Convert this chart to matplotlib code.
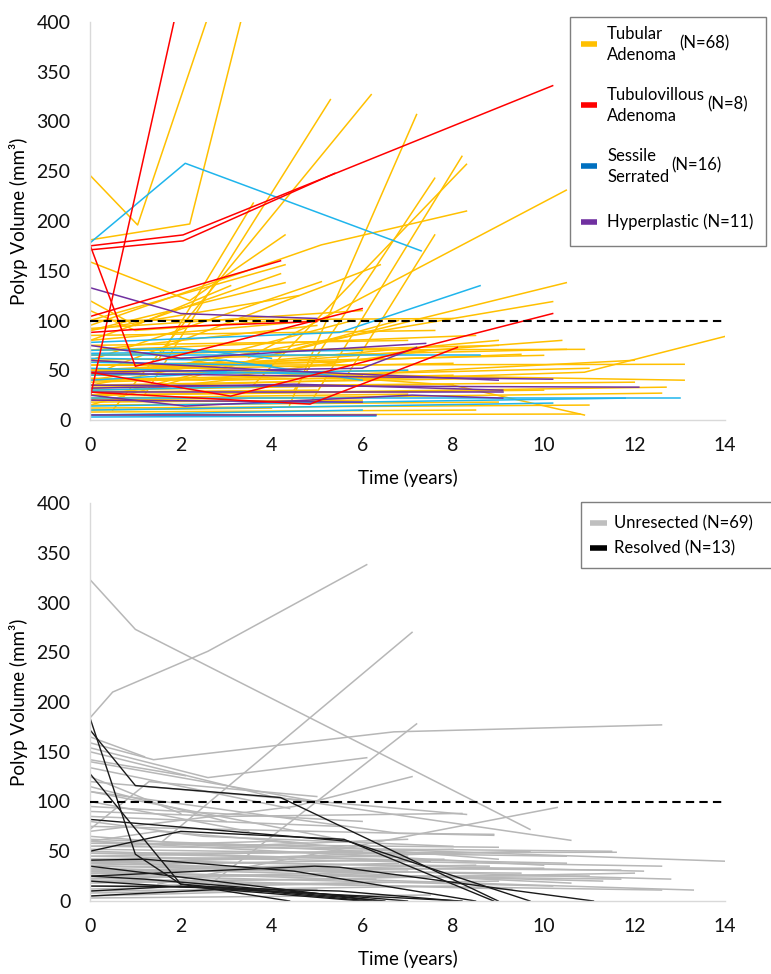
import matplotlib.pyplot as plt
from matplotlib.patches import Rectangle

plt.rcParams['font.family'] = ['Lato', 'DejaVu Sans']

# ---- top panel: polyp volume by histology (time in years, volume in mm3)
tubular = [
    ([0, 1.05, 2.6], [246, 196, 405]),
    ([0, 2.2, 3.35], [181, 197, 405]),
    ([0, 2.2, 4.3], [159, 120, 186]),
    ([1.2, 5.3], [25, 322]),
    ([0.5, 6.2], [10, 327]),
    ([4.4, 7.2], [15, 307]),
    ([4.9, 8.2], [20, 265]),
    ([3.6, 8.3], [35, 257]),
    ([0, 5.1, 8.3], [95, 176, 210]),
    ([4.5, 7.6], [30, 243]),
    ([5.6, 7.6], [40, 186]),
    ([3.5, 10.5], [63, 231]),
    ([0, 4.3], [100, 156]),
    ([0, 4.2], [80, 147]),
    ([0, 4.3], [90, 138]),
    ([0, 5.1], [60, 139]),
    ([0, 6.4], [45, 156]),
    ([1.5, 3.6], [60, 218]),
    ([0, 10.5], [20, 138]),
    ([0, 10.2], [40, 119]),
    ([0, 10.9, 14.0], [32, 48, 84]),
    ([0, 10.9], [70, 71]),
    ([0, 13.1], [55, 56]),
    ([0, 13.1], [50, 40]),
    ([0, 12.7], [25, 33]),
    ([0, 8.0, 10.9], [60, 35, 5]),
    ([0, 10.4], [45, 80]),
    ([0, 10.5], [60, 71]),
    ([0, 9.5], [50, 66]),
    ([0, 1.0, 3.1], [120, 95, 135]),
    ([0, 8.0], [100, 102]),
    ([0, 6.0], [92, 110]),
    ([0, 5.0], [80, 100]),
    ([0, 7.6], [85, 90]),
    ([0, 8.5], [70, 85]),
    ([0, 7.0], [75, 80]),
    ([0, 9.0], [65, 75]),
    ([0, 6.0], [65, 72]),
    ([0, 10.0], [55, 65]),
    ([0, 5.5], [55, 58]),
    ([0, 8.0], [50, 57]),
    ([0, 7.0], [45, 50]),
    ([0, 11.0], [40, 52]),
    ([0, 6.5], [40, 42]),
    ([0, 9.0], [35, 42]),
    ([0, 12.0], [33, 38]),
    ([0, 8.0], [30, 36]),
    ([0, 5.0], [28, 30]),
    ([0, 10.0], [25, 30]),
    ([0, 7.0], [22, 26]),
    ([0, 12.6], [20, 27]),
    ([0, 6.0], [18, 20]),
    ([0, 9.0], [15, 18]),
    ([0, 11.0], [12, 15]),
    ([0, 4.0], [10, 12]),
    ([0, 8.5], [8, 10]),
    ([0, 10.8], [5, 6]),
    ([0, 3.0, 6.0], [60, 50, 45]),
    ([0, 2.0, 5.0], [70, 80, 95]),
    ([0, 4.0, 9.0], [48, 60, 80]),
    ([0, 3.0], [35, 60]),
    ([0, 2.5, 7.5], [42, 40, 70]),
    ([0, 4.6], [90, 125]),
    ([0, 1.0, 4.2], [110, 90, 100]),
    ([0, 2.0, 5.8], [50, 55, 100]),
    ([0, 6.8], [15, 100]),
    ([0, 3.0, 8.0], [25, 40, 45]),
    ([0, 5.5, 12.0], [38, 45, 60]),
]

tubulovillous = [
    ([0, 1.9], [22, 410]),
    ([0, 2.05, 5.4], [171, 180, 248]),
    ([0, 2.05, 10.2], [175, 186, 336]),
    ([0, 1.0, 6.0], [176, 54, 112]),
    ([0, 4.2], [104, 160]),
    ([0, 2.0, 5.0], [88, 94, 99]),
    ([0, 3.1, 10.2], [48, 24, 107]),
    ([0, 4.85, 8.1], [28, 16, 73]),
]

sessile = [
    ([0, 2.1, 7.3], [178, 258, 170]),
    ([0, 5.5, 8.6], [78, 88, 135]),
    ([0, 6.0], [67, 70]),
    ([0, 8.6], [65, 65]),
    ([0, 3.0, 6.0], [62, 60, 40]),
    ([0, 4.0], [58, 55]),
    ([0, 5.0], [52, 46]),
    ([0, 7.0], [45, 50]),
    ([0, 3.0], [40, 48]),
    ([0, 13.0], [22, 22]),
    ([0, 11.8], [14, 22]),
    ([0, 10.2], [10, 17]),
    ([0, 6.0], [5, 10]),
    ([0, 6.3], [3, 4]),
    ([0, 5.0], [30, 35]),
    ([0, 2.0, 4.0], [70, 72, 62]),
]

hyperplastic = [
    ([0, 2.0, 5.0], [133, 107, 102]),
    ([0, 2.0, 7.4], [75, 62, 77]),
    ([0, 10.2], [47, 41]),
    ([0, 12.1], [35, 33]),
    ([0, 2.1, 7.1, 9.1], [25, 14, 25, 22]),
    ([0, 6.3], [5, 5]),
    ([0, 9.1], [28, 28]),
    ([0, 6.0, 7.2], [48, 52, 73]),
    ([0, 4.5, 9.1], [32, 36, 30]),
    ([0, 6.0], [20, 18]),
    ([0, 4.0, 9.0], [60, 50, 40]),
]

# ---- bottom panel: unresected vs resolved
unresected = [
    ([0, 1.0, 9.7], [323, 273, 72]),
    ([0, 0.5, 2.6, 6.1], [184, 210, 251, 338]),
    ([1.6, 7.1], [60, 270]),
    ([0, 1.4, 6.7, 12.6], [159, 142, 170, 177]),
    ([0, 2.6, 6.1], [154, 124, 144]),
    ([0, 2.1], [142, 126]),
    ([2.6, 7.2], [15, 178]),
    ([0, 4.5, 7.1], [70, 95, 125]),
    ([0, 6.8, 8.3], [120, 93, 87]),
    ([0, 6.8, 8.9], [110, 68, 67]),
    ([1.5, 10.3], [17, 94]),
    ([0, 4.0, 10.6], [150, 105, 61]),
    ([0, 14.0], [62, 40]),
    ([0, 12.6], [45, 35]),
    ([0, 13.3], [30, 11]),
    ([0, 11.6], [48, 49]),
    ([0, 11.7], [35, 31]),
    ([0, 11.7], [28, 22]),
    ([0, 12.6], [20, 11]),
    ([0, 10.0], [60, 36]),
    ([0, 9.7], [38, 50]),
    ([0, 8.9], [75, 66]),
    ([0, 1.2], [165, 145]),
    ([0, 4.4], [134, 93]),
    ([0, 1.3, 5.0], [72, 120, 105]),
    ([0, 5.0], [140, 100]),
    ([0, 3.0, 8.2], [90, 85, 88]),
    ([0, 11.5], [55, 50]),
    ([0, 10.6], [40, 18]),
    ([0, 10.5], [52, 45]),
    ([0, 9.0], [58, 54]),
    ([0, 8.0], [45, 52]),
    ([0, 7.5], [50, 40]),
    ([0, 7.0], [42, 45]),
    ([0, 6.5], [38, 48]),
    ([0, 6.0], [35, 30]),
    ([0, 9.5], [32, 28]),
    ([0, 10.0], [30, 33]),
    ([0, 8.5], [28, 36]),
    ([0, 11.0], [25, 25]),
    ([0, 7.0], [22, 30]),
    ([0, 12.0], [18, 28]),
    ([0, 9.0], [15, 20]),
    ([0, 6.0], [12, 18]),
    ([0, 8.0], [10, 15]),
    ([0, 5.0], [8, 12]),
    ([0, 4.0], [5, 10]),
    ([0, 7.5], [3, 6]),
    ([0, 3.0, 7.0], [60, 55, 62]),
    ([0, 2.0, 6.0], [65, 58, 50]),
    ([0, 4.0, 9.0], [55, 60, 42]),
    ([0, 5.5], [85, 75]),
    ([0, 6.0], [95, 80]),
    ([0, 3.5], [100, 70]),
    ([0, 2.5, 8.0], [80, 65, 55]),
    ([0, 10.5], [48, 38]),
    ([0, 12.2], [42, 30]),
    ([0, 8.8], [40, 35]),
    ([0, 7.8], [36, 42]),
    ([0, 11.3], [33, 20]),
    ([0, 6.8], [30, 38]),
    ([0, 10.2], [26, 15]),
    ([0, 9.3], [23, 12]),
    ([0, 2.0], [125, 88]),
    ([0, 3.0], [115, 80]),
    ([0, 5.5], [110, 62]),
    ([0, 1.5, 4.8], [60, 70, 58]),
    ([0, 12.8], [38, 22]),
    ([0, 6.3], [20, 22]),
]

resolved = [
    ([0, 1.0, 4.2, 9.0], [172, 116, 104, 0]),
    ([0, 1.0, 2.0, 6.2], [184, 47, 17, 0]),
    ([0, 2.0, 4.4], [128, 17, 0]),
    ([0, 5.7, 9.7], [82, 60, 0]),
    ([0, 2.0, 5.6, 8.9], [50, 70, 62, 0]),
    ([0, 1.2, 4.5, 8.5], [41, 42, 30, 0]),
    ([0, 6.4], [35, 0]),
    ([0, 4.95, 5.5, 11.1], [25, 35, 34, 0]),
    ([0, 1.2, 7.0], [25, 22, 0]),
    ([0, 2.0, 5.5, 8.1], [20, 14, 10, 0]),
    ([0, 3.0, 6.5], [15, 14, 0]),
    ([0, 2.0, 6.0], [10, 15, 0]),
    ([0, 3.0, 8.2], [5, 12, 0]),
]

threshold = 100
x_ticks = [0, 2, 4, 6, 8, 10, 12, 14]
y_ticks = [0, 50, 100, 150, 200, 250, 300, 350, 400]

top_labels = [('Tubular', 'Adenoma', '(N=68)'), ('Tubulovillous', 'Adenoma', '(N=8)'),
              ('Sessile', 'Serrated', '(N=16)'), ('Hyperplastic (N=11)', None, None)]
bottom_labels = ['Unresected (N=69)', 'Resolved (N=13)']


def style_axes(ax):
    ax.set_xlim(0, 14)
    ax.set_ylim(0, 400)
    ax.set_xticks(x_ticks)
    ax.set_yticks(y_ticks)
    for s in ['top', 'right']:
        ax.spines[s].set_visible(False)
    for s in ['left', 'bottom']:
        ax.spines[s].set_color('#d9d9d9')
        ax.spines[s].set_linewidth(1.0)
    ax.tick_params(axis='both', length=0, labelsize=14, colors='#111111')
    ax.tick_params(axis='x', pad=12)
    ax.tick_params(axis='y', pad=14)
    ax.axhline(threshold, color='black', lw=1.5, ls=(0, (4, 2.5)), zorder=5)
    ax.set_ylabel('Polyp Volume (mm³)', fontsize=13.5, labelpad=6)
    ax.set_xlabel('Time (years)', fontsize=13.5, labelpad=11)


fig = plt.figure(figsize=(7.71, 9.74), dpi=100)
ax1 = fig.add_axes([90 / 771, 1 - 420 / 974, 635 / 771, 398 / 974])
ax2 = fig.add_axes([90 / 771, 1 - 901 / 974, 635 / 771, 398 / 974])

for t, v in tubular:
    ax1.plot(t, v, color='#FFC000', lw=1.1)
for t, v in sessile:
    ax1.plot(t, v, color='#1FB5EC', lw=1.1)
for t, v in hyperplastic:
    ax1.plot(t, v, color='#7030A0', lw=1.1)
for t, v in tubulovillous:
    ax1.plot(t, v, color='#FF0000', lw=1.1)
style_axes(ax1)

for t, v in unresected:
    ax2.plot(t, v, color='#B7B7B7', lw=1.1)
for t, v in resolved:
    ax2.plot(t, v, color='#1A1A1A', lw=1.0)
style_axes(ax2)

# legends drawn in pixel space on an overlay
ov = fig.add_axes([0, 0, 1, 1])
ov.set_xlim(0, 771)
ov.set_ylim(974, 0)
ov.axis('off')

ov.add_patch(Rectangle((570, 17), 196, 229, fill=False, ec='#7f7f7f', lw=1.0))
top_colors = ['#FFC000', '#FF0000', '#0070C0', '#7030A0']
rows = [44, 105, 166, 222]
fig.canvas.draw()
inv = ov.transData.inverted()
for (l1, l2, n), c, y in zip(top_labels, top_colors, rows):
    ov.plot([581, 597], [y, y], color=c, lw=4, solid_capstyle='butt')
    if l2 is None:
        ov.text(607, y, l1, fontsize=12, va='center', ha='left')
    else:
        t1 = ov.text(607, y - 10, l1, fontsize=12, va='center', ha='left')
        t2 = ov.text(607, y + 11, l2, fontsize=12, va='center', ha='left')
        r = fig.canvas.get_renderer()
        xr = max(t1.get_window_extent(r).x1, t2.get_window_extent(r).x1)
        xd = inv.transform((xr, 0))[0]
        ov.text(xd + 2, y - 1, n, fontsize=12, va='center', ha='left')

ov.add_patch(Rectangle((581, 502), 192, 66, fill=False, ec='#7f7f7f', lw=1.0))
for lab, c, y in zip(bottom_labels, ['#BFBFBF', '#000000'], [523, 548]):
    ov.plot([590, 607], [y, y], color=c, lw=4, solid_capstyle='butt')
    ov.text(614, y, lab, fontsize=12, va='center', ha='left')

fig.savefig('out.png', dpi=100)
